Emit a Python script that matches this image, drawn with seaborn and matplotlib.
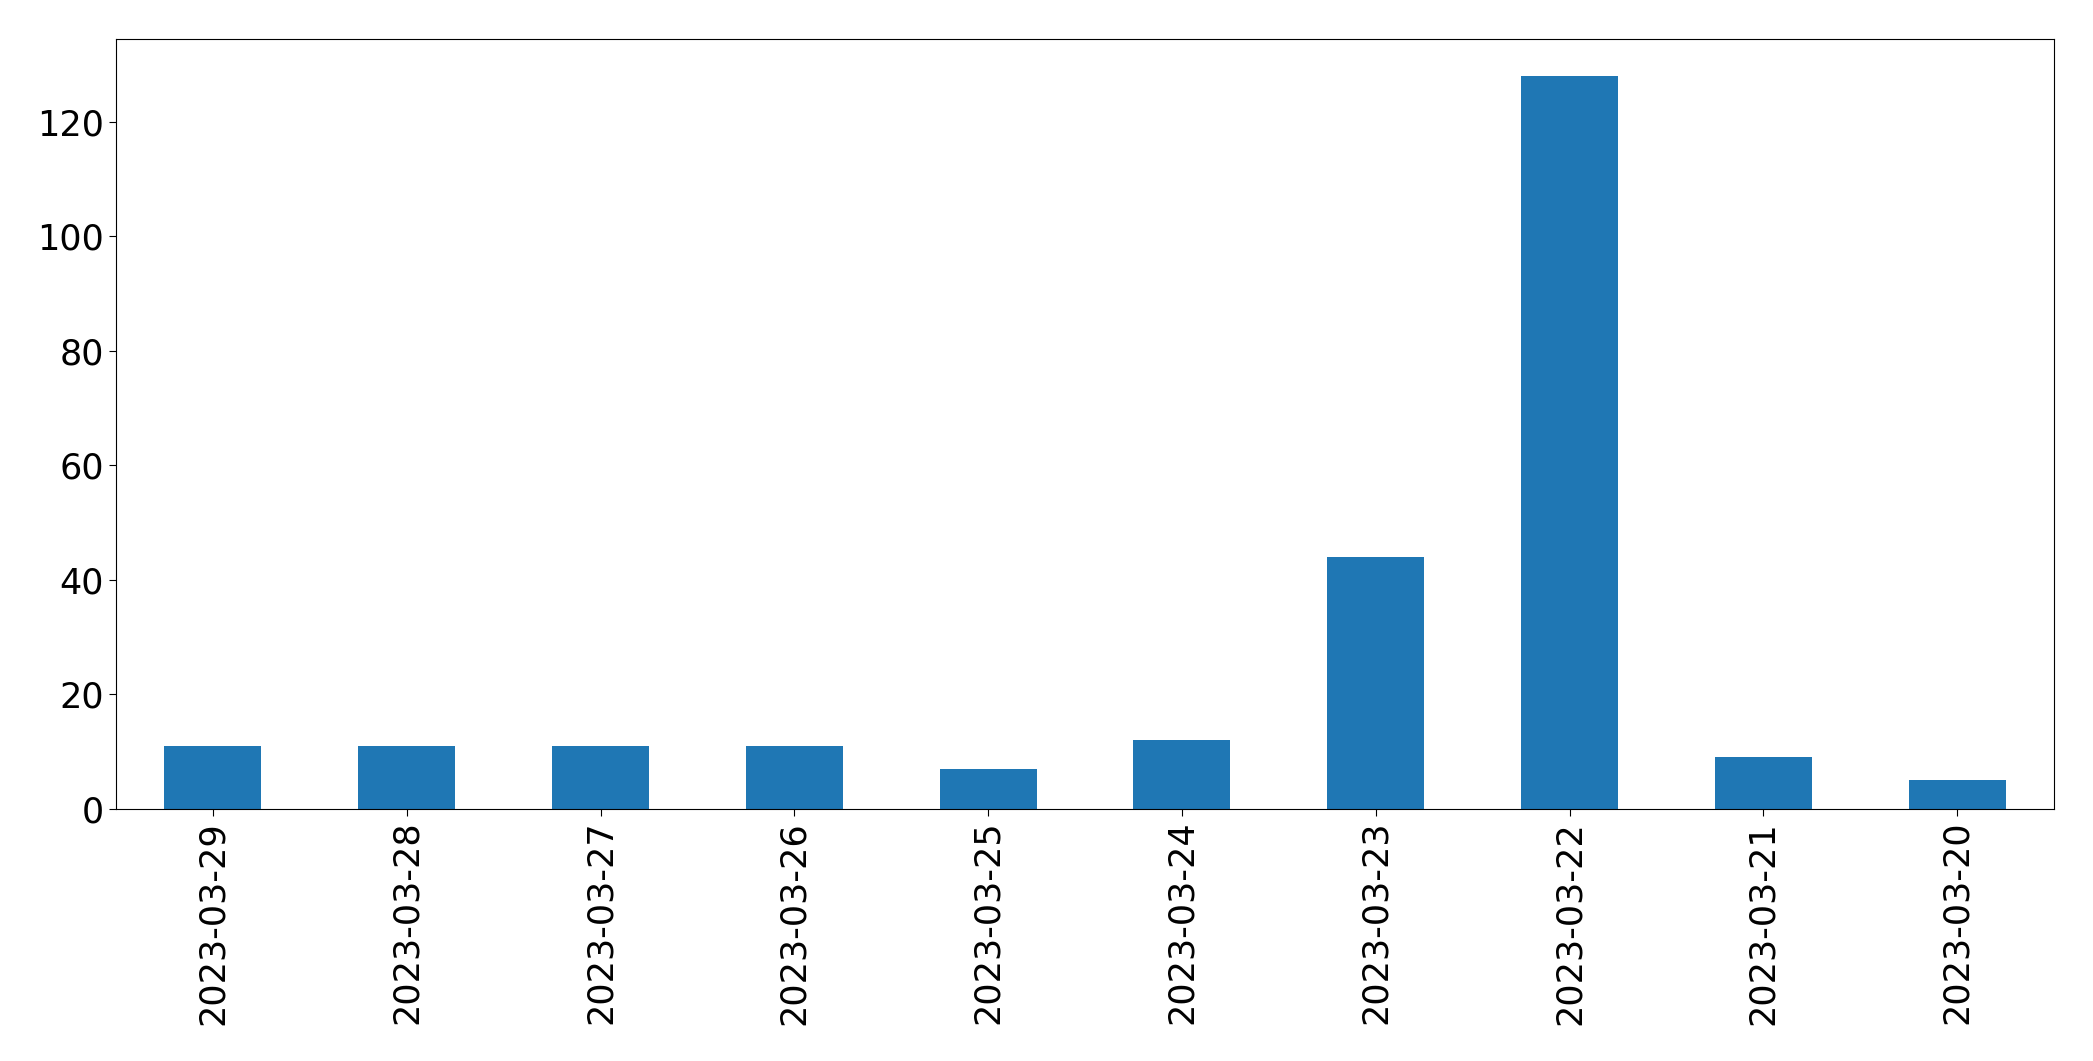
import matplotlib
matplotlib.use("Agg")
import matplotlib.pyplot as plt
import seaborn as sns
import pandas as pd

dates = ["2023-03-29", "2023-03-28", "2023-03-27", "2023-03-26", "2023-03-25",
         "2023-03-24", "2023-03-23", "2023-03-22", "2023-03-21", "2023-03-20"]
counts = [11, 11, 11, 11, 7, 12, 44, 128, 9, 5]

df = pd.DataFrame({"date": dates, "count": counts})

fig = plt.figure(figsize=(20.93, 10.61), dpi=100)
ax = fig.add_axes([116/2093, 1 - 809/1061, (2054-116)/2093, (809-39)/1061])
sns.barplot(data=df, x="date", y="count", order=dates, color="#1f77b4",
            saturation=1, width=0.5, linewidth=0, ax=ax)
ax.set_xlim(-0.5, len(dates) - 0.5)
ax.set_ylim(0, 134.4)
ax.set_xlabel("")
ax.set_ylabel("")
for s in ax.spines.values():
    s.set_color("black")
ax.tick_params(axis="both", labelsize=25.2, length=5, colors="black")
ax.tick_params(axis="x", labelrotation=90)
fig.savefig("out.png", dpi=100)
